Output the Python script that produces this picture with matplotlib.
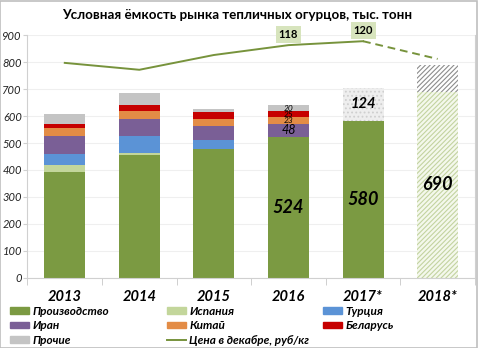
import matplotlib
matplotlib.use("Agg")
import matplotlib.pyplot as plt
import numpy as np
from matplotlib.lines import Line2D
from matplotlib.patches import Patch, Rectangle

years = ["2013", "2014", "2015", "2016", "2017*", "2018*"]
production = [393, 456, 478, 524, 580, 0]
spain = [25, 7, 0, 0, 0, 0]
turkey = [43, 63, 33, 0, 0, 0]
iran = [65, 63, 52, 48, 0, 0]
china = [30, 31, 26, 23, 0, 0]
belarus = [15, 22, 25, 25, 0, 0]
others = [37, 44, 12, 20, 0, 0]
others_2017 = [0, 0, 0, 0, 124, 0]
forecast_prod = [0, 0, 0, 0, 0, 690]
forecast_other = [0, 0, 0, 0, 0, 100]
price = [109, 105.5, 113, 118, 120, 111]
price_labels = {3: "118", 4: "120"}

FONT = ["Lato", "DejaVu Sans"]
plt.rcParams['font.family'] = FONT
plt.rcParams['hatch.linewidth'] = 0.8

c_prod = "#7b9a42"
c_spain = "#c3d69b"
c_turkey = "#5b93d6"
c_iran = "#7a5f96"
c_china = "#e38c46"
c_bel = "#c60000"
c_oth = "#c4c4c4"
c_line = "#77933c"

fig = plt.figure(figsize=(4.78, 3.48), dpi=100)
ax = fig.add_axes([0.0575, 0.202, 0.936, 0.6966])
x = np.arange(len(years))
w = 0.55

bottom = np.zeros(len(years))
series = [(production, c_prod), (spain, c_spain), (turkey, c_turkey), (iran, c_iran),
          (china, c_china), (belarus, c_bel), (others, c_oth)]
for vals, col in series:
    v = np.array(vals, dtype=float)
    ax.bar(x, v, w, bottom=bottom, color=col, linewidth=0, zorder=2)
    bottom += v

# 2017 others (dotted)
v = np.array(others_2017, dtype=float)
ax.bar(x, v, w, bottom=bottom, facecolor="#eeeeee", edgecolor="#cfcfcf", hatch="....",
       linewidth=0, zorder=2)
bottom += v
# 2018 forecast
v = np.array(forecast_prod, dtype=float)
ax.bar(x, v, w, bottom=bottom, facecolor="#f4f8ec", edgecolor="#c3d3a0", hatch="///////",
       linewidth=0, zorder=2)
bottom += v
v = np.array(forecast_other, dtype=float)
ax.bar(x, v, w, bottom=bottom, facecolor="#ffffff", edgecolor="#8c8c8c", hatch="///////",
       linewidth=0, zorder=2)

ax.set_ylim(0, 900)
ax.set_xlim(-0.5, 5.5)
ax.set_yticks(range(0, 901, 100))
ax.set_yticklabels([str(t) for t in range(0, 901, 100)], fontsize=8, fontstyle="italic",
                   color="#222222")
ax.yaxis.grid(True, color="#efefef", linewidth=0.8, zorder=0)
ax.set_axisbelow(True)
ax.tick_params(axis="y", length=3, color="#d0d0d0", pad=1)
ax.set_xticks(x)
ax.set_xticklabels(years, fontsize=10.5, fontweight="bold", fontstyle="italic")
ax.tick_params(axis="x", length=0, pad=9)
ax.set_xticks(np.arange(-0.5, 6, 1), minor=True)
ax.tick_params(axis="x", which="minor", length=5, color="#c8c8c8")
for s in ["top", "right"]:
    ax.spines[s].set_visible(False)
ax.spines["left"].set_color("#d0d0d0")
ax.spines["bottom"].set_color("#d0d0d0")

# Data labels on bars
big = dict(fontsize=13, fontweight="bold", fontstyle="italic", ha="center", va="center", zorder=5)
ax.text(3, production[3] / 2, str(production[3]), **big)
ax.text(4, production[4] / 2, str(production[4]), **big)
ax.text(5, forecast_prod[5] / 2, str(forecast_prod[5]), **big)
ax.text(4, production[4] + others_2017[4] / 2 + 4, str(others_2017[4]), fontsize=10.5,
        fontweight="bold", fontstyle="italic", ha="center", va="center", zorder=5)
b = production[3]
ax.text(3, b + iran[3] / 2, str(iran[3]), fontsize=9, fontstyle="italic", ha="center",
        va="center", zorder=5)
b += iran[3]
for vals in (china, belarus, others):
    ax.text(3, b + vals[3] / 2, str(vals[3]), fontsize=6, fontstyle="italic", ha="center",
            va="center", zorder=5)
    b += vals[3]

# Price line on secondary axis
ax2 = ax.twinx()
ax2.set_ylim(0, 123)
ax2.set_yticks([])
for s in ["top", "left", "bottom"]:
    ax2.spines[s].set_visible(False)
ax2.spines["right"].set_color("#d0d0d0")
ax2.plot(x[:5], price[:5], color=c_line, linewidth=1.4, zorder=4)
ax2.plot(x[4:], price[4:], color=c_line, linewidth=1.4, linestyle=(0, (4, 2.5)), zorder=4)
for i, lab in price_labels.items():
    ax2.text(x[i], price[i] + 5.5, lab, fontsize=8, fontweight="bold", ha="center",
             va="center", bbox=dict(boxstyle="square,pad=0.25", facecolor="#d7e4bd",
                                    edgecolor="none"))

fig.text(0.497, 0.958, "Условная ёмкость рынка тепличных огурцов, тыс. тонн",
         fontsize=9.6, fontweight="bold", ha="center", va="center")

handles = [Patch(color=c_prod, label="Производство"), Patch(color=c_spain, label="Испания"),
           Patch(color=c_turkey, label="Турция"), Patch(color=c_iran, label="Иран"),
           Patch(color=c_china, label="Китай"), Patch(color=c_bel, label="Беларусь"),
           Patch(color=c_oth, label="Прочие"),
           Line2D([0], [0], color=c_line, linewidth=1.4, label="Цена в декабре, руб/кг")]
columns = [([0, 3, 6], 0.021), ([1, 4, 7], 0.349), ([2, 5], 0.676)]
for idx, xpos in columns:
    lg = fig.legend([handles[i] for i in idx], [handles[i].get_label() for i in idx],
                    ncol=1, loc="upper left", bbox_to_anchor=(xpos, 0.122), frameon=False,
                    prop=dict(family=FONT, size=8.5, weight="bold", style="italic"),
                    handlelength=1.6, handleheight=0.45, handletextpad=0.3,
                    labelspacing=0.3, borderpad=0, borderaxespad=0)

fig.patches.append(Rectangle((0.001, 0.001), 0.997, 0.997, transform=fig.transFigure,
                             fill=False, edgecolor="#bfbfbf", linewidth=1.2))

fig.savefig("out.png", dpi=100)
